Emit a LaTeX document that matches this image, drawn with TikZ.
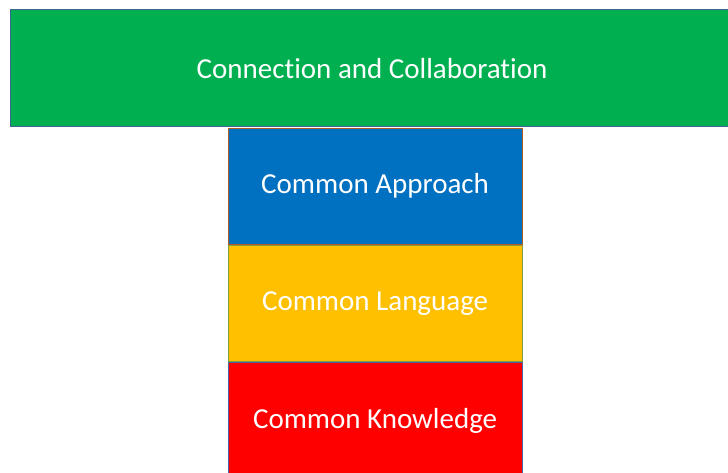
\documentclass[tikz,border=0pt]{standalone}
\usepackage{fontspec}
\setmainfont[Ligatures=NoCommon]{Carlito}
\usetikzlibrary{positioning}

\begin{document}
\begin{tikzpicture}[x=1pt,y=-1pt,line width=1.2pt]
	\definecolor{cgreen}{HTML}{00B050}
	\definecolor{cblue}{HTML}{0070C0}
	\definecolor{cyellow}{HTML}{FFC000}
	\definecolor{cred}{HTML}{FF0000}
	\tikzstyle{layer}=[draw,rectangle,inner sep=0pt,text=white,font=\fontsize{29}{34}\selectfont];
	\tikzstyle{pillar}=[layer,minimum width=294pt,minimum height=116pt];

	\useasboundingbox (0,0) rectangle (728,472);
	\node[layer,fill=cgreen,draw={rgb,255:red,65;green,100;blue,150},minimum width=723pt,minimum height=117pt,anchor=north west] (conn) at (10,9) {Connection and Collaboration};
	\node[pillar,fill=cblue,draw={rgb,255:red,174;green,90;blue,33},anchor=north west] (appr) at (227.5,127.5) {Common Approach};
	\node[pillar,fill=cyellow,draw={rgb,255:red,127;green,159;blue,63},below=0pt of appr] (lang) {Common Language};
	\node[pillar,fill=cred,draw={rgb,255:red,70;green,100;blue,160},below=0pt of lang] (know) {Common Knowledge};
\end{tikzpicture}
\end{document}
